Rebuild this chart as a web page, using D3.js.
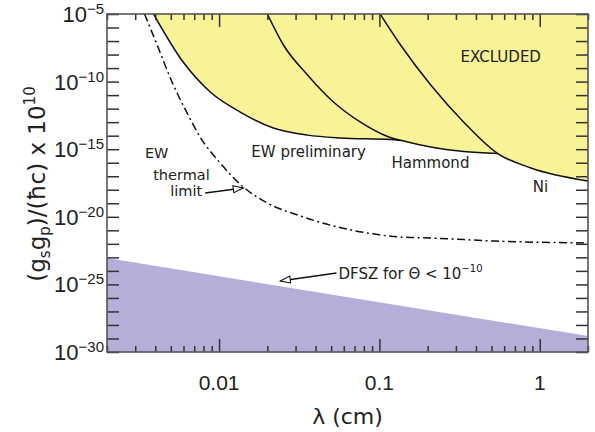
<!DOCTYPE html>
<html><head><meta charset="utf-8">
<script src="https://cdn.jsdelivr.net/npm/d3@7"></script>
<style>body{margin:0;background:#fff}</style>
</head><body><svg id="c" width="595" height="432"></svg>
<script>
// ---- data (lambda in cm, coupling (gs gp)/(hbar c) x 1e10) ----
const ewPrelim = [[0.0039,1e-5],[0.00597,2.8e-9],[0.00881,1.7e-11],[0.01355,5.6e-13],[0.0218,3.7e-14],[0.0356,1.1e-14],[0.0571,6.8e-15],[0.1175,5.2e-15],[0.1355,4.4e-15]];
const hammond  = [[0.02,1e-5],[0.0252,5.1e-8],[0.0356,3.1e-10],[0.0517,3.1e-12],[0.0762,1.0e-13],[0.1125,8.7e-15],[0.1457,3.7e-15],[0.209,1.45e-15],[0.336,6.8e-16],[0.547,4.8e-16]];
const nickel   = [[0.101,1e-5],[0.1355,5.1e-8],[0.209,5.6e-11],[0.336,1.0e-13],[0.547,4.8e-16],[0.881,4.1e-17],[2.0,4.5e-18]];
const thermal  = [[0.00343,1e-5],[0.00411,5.1e-8],[0.00509,9.3e-11],[0.00641,3.4e-13],[0.00762,7.9e-15],[0.01016,9.5e-17],[0.01416,1.6e-18],[0.02,1.05e-19],[0.0322,1.15e-20],[0.0517,2.1e-21],[0.0843,6.3e-22],[0.1355,3.2e-22],[0.209,2.7e-22],[0.532,1.6e-22],[2.0,1.15e-22]];
const dfsz     = [[0.002,8.9e-24],[2.0,1.5e-29]];

const xDomain = [0.002, 2];
const yDomain = [1e-30, 1e-5];
const xMajorTicks = [0.01, 0.1, 1];
const xTickLabels = ["0.01", "0.1", "1"];
const yLabelExponents = [-5, -10, -15, -20, -25, -30];

// annotations in data coordinates
const labels = [
  {t:"EXCLUDED", at:[0.321, 2.8e-9], s:15},
  {t:"EW preliminary", at:[0.0159, 2.6e-16], s:15},
  {t:"Hammond", at:[0.119, 4.1e-17], s:15},
  {t:"Ni", at:[0.906, 6.8e-19], s:15},
  {t:"EW", at:[0.00345, 2.2e-16], s:14.5},
  {t:"thermal", at:[0.00388, 5.6e-18], s:14.5},
  {t:"limit", at:[0.00496, 3.3e-19], s:14.5}
];
const dfszLabelAt = [0.0556, 2.5e-25];
const arrows = [
  {from:[0.00819, 5.8e-19], to:[0.01416, 1.35e-18]},
  {from:[0.054, 6.9e-25], to:[0.0241, 1.8e-25]}
];

// ---- layout ----
const L = 107, R = 588, T = 14, B = 352;
const svg = d3.select("#c");
const x = d3.scaleLog().domain(xDomain).range([L, R]);
const y = d3.scaleLog().domain(yDomain).range([B, T]);
const yTop = yDomain[1];

const defs = svg.append("defs");
defs.append("clipPath").attr("id","pc").append("rect")
  .attr("x",L).attr("y",T).attr("width",R-L).attr("height",B-T);
defs.append("marker").attr("id","ah").attr("markerUnits","userSpaceOnUse")
  .attr("markerWidth",14).attr("markerHeight",10).attr("refX",11).attr("refY",4)
  .attr("orient","auto")
  .append("path").attr("d","M1,0.5 L11,4 L1,7.5 Z")
  .attr("fill","#fff").attr("stroke","#111").attr("stroke-width",1.1);

const plot = svg.append("g").attr("clip-path","url(#pc)");
const curve = d3.curveMonotoneX;
const area = d3.area().x(d=>x(d[0])).y0(d=>y(d[1])).y1(y(yTop)).curve(curve);
const line = d3.line().x(d=>x(d[0])).y(d=>y(d[1])).curve(curve);

const yellow = "#f7f396";
[ewPrelim, hammond, nickel].forEach(c=>{
  plot.append("path").attr("d", area(c)).attr("fill", yellow);
});
// DFSZ band
const dfszArea = d3.area().x(d=>x(d[0])).y0(y(yDomain[0])).y1(d=>y(d[1]));
plot.append("path").attr("d", dfszArea(dfsz)).attr("fill","#b3afd9");

[ewPrelim, hammond, nickel].forEach(c=>{
  plot.append("path").attr("d", line(c)).attr("fill","none").attr("stroke","#111").attr("stroke-width",1.5);
});
plot.append("path").attr("d", line(thermal)).attr("fill","none").attr("stroke","#111")
  .attr("stroke-width",1.5).attr("stroke-dasharray","8,3.5,2,3.5");

// ---- axes ----
const allX = x.ticks();
const minorX = allX.filter(v => !xMajorTicks.some(m => Math.abs(m - v) / m < 1e-6));
const decadesY = d3.range(-30, -4).map(e => Math.pow(10, e));
const tickColor = "#333";
function ax(gen, tr){
  const g = svg.append("g").attr("transform", tr).call(gen);
  g.select(".domain").remove();
  g.selectAll("line").attr("stroke", tickColor).attr("stroke-width", 1.5);
  g.selectAll("text").remove();
  return g;
}
ax(d3.axisBottom(x).tickValues(xMajorTicks).tickSize(-13), `translate(0,${B})`);
ax(d3.axisBottom(x).tickValues(minorX).tickSize(-6), `translate(0,${B})`);
ax(d3.axisTop(x).tickValues(xMajorTicks).tickSize(-13), `translate(0,${T})`);
ax(d3.axisTop(x).tickValues(minorX).tickSize(-6), `translate(0,${T})`);
ax(d3.axisLeft(y).tickValues(decadesY).tickSize(-12), `translate(${L},0)`);
ax(d3.axisRight(y).tickValues(decadesY).tickSize(-12), `translate(${R},0)`);

svg.append("rect").attr("x",L).attr("y",T).attr("width",R-L).attr("height",B-T)
  .attr("fill","none").attr("stroke","#555").attr("stroke-width",1.6);

// tick labels
const numFont = "'Liberation Sans Narrow','Liberation Sans',Arial,sans-serif";
svg.selectAll(".xl").data(xMajorTicks).join("text").attr("class","xl")
  .attr("x", d=>x(d)).attr("y", 390).attr("text-anchor","middle")
  .attr("font-family", numFont).attr("font-size", 21).attr("fill","#222")
  .text((d,i)=>xTickLabels[i]);

const yl = svg.selectAll(".yl").data(yLabelExponents).join("text").attr("class","yl")
  .attr("x", 104).attr("y", d=>y(Math.pow(10,d)) + 8).attr("text-anchor","end")
  .attr("font-family", numFont).attr("fill","#222");
yl.append("tspan").attr("font-size", 22).text("10");
yl.append("tspan").attr("font-size", 15).attr("dy", -8).text(d=>"\u2212" + Math.abs(d));

// axis titles
const titleFont = "'DejaVu Sans',sans-serif";
svg.append("text").attr("x", (L+R)/2).attr("y", 424).attr("text-anchor","middle")
  .attr("font-family", titleFont).attr("font-size", 22).attr("fill","#222").text("\u03bb (cm)");

const yt = svg.append("text").attr("transform","translate(45,184) rotate(-90)")
  .attr("text-anchor","middle").attr("font-family", titleFont).attr("font-size", 23).attr("fill","#222");
yt.append("tspan").text("(g");
yt.append("tspan").attr("font-size",15).attr("dy",5).text("s");
yt.append("tspan").attr("dy",-5).text("g");
yt.append("tspan").attr("font-size",15).attr("dy",5).text("p");
yt.append("tspan").attr("dy",-5).text(")/(\u0127c) x 10");
yt.append("tspan").attr("font-size",15).attr("dy",-10).text("10");

// annotations
svg.selectAll(".ann").data(labels).join("text").attr("class","ann")
  .attr("x", d=>x(d.at[0])).attr("y", d=>y(d.at[1]))
  .attr("font-family", titleFont).attr("font-size", d=>d.s).attr("fill","#222")
  .text(d=>d.t);

const dl = svg.append("text").attr("x", x(dfszLabelAt[0])).attr("y", y(dfszLabelAt[1]))
  .attr("font-family", titleFont).attr("font-size", 15).attr("fill","#222");
dl.append("tspan").text("DFSZ for \u0398 < 10");
dl.append("tspan").attr("font-size", 10).attr("dy", -7).text("\u221210");

svg.selectAll(".arr").data(arrows).join("line").attr("class","arr")
  .attr("x1", d=>x(d.from[0])).attr("y1", d=>y(d.from[1]))
  .attr("x2", d=>x(d.to[0])).attr("y2", d=>y(d.to[1]))
  .attr("stroke","#111").attr("stroke-width",1.4).attr("marker-end","url(#ah)");
</script></body></html>
